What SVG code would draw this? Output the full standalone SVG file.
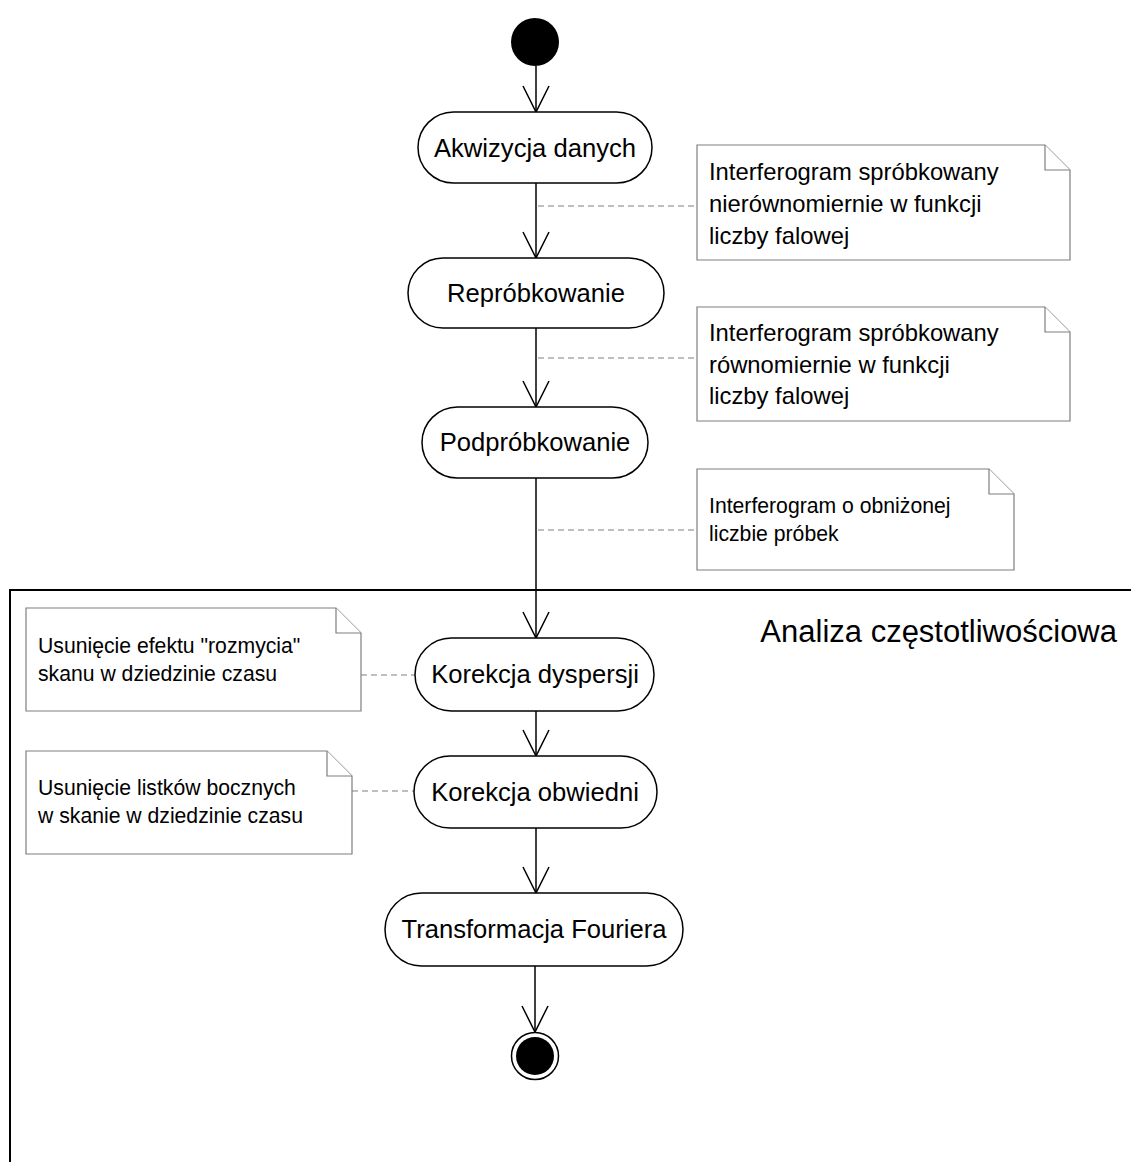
<svg xmlns="http://www.w3.org/2000/svg" width="1131" height="1162" viewBox="0 0 1131 1162">
<defs>
<style>
.node{fill:#fff;stroke:#000;stroke-width:1.5}
.nt{font-family:"Liberation Sans",Arial,sans-serif;font-size:25.6px;fill:#000;text-anchor:middle}
.note{fill:#fff;stroke:#7f7f7f;stroke-width:1.2}
.ntxt{font-family:"Liberation Sans",Arial,sans-serif;font-size:23.8px;fill:#000}
.ntxs{font-family:"Liberation Sans",Arial,sans-serif;font-size:21.2px;fill:#000}
.flow{fill:none;stroke:#000;stroke-width:1.5}
.dash{fill:none;stroke:#808080;stroke-width:1.2;stroke-dasharray:6 4}
.frame{fill:none;stroke:#000;stroke-width:2}
</style>
<marker id="arr" viewBox="0 0 30 30" refX="27" refY="15" markerWidth="30" markerHeight="30" markerUnits="userSpaceOnUse" orient="auto">
<path d="M1 2 L27 15 L1 28" fill="none" stroke="#000" stroke-width="1.5"/>
</marker>
</defs>
<rect width="1131" height="1162" fill="#fff"/>
<g id="frame">
<path class="frame" d="M10 1162 V590 H1131"/>
<text x="1117" y="642" font-family="'Liberation Sans',Arial,sans-serif" font-size="31px" text-anchor="end">Analiza częstotliwościowa</text>
</g>
<g id="connectors">
<line class="flow" x1="536" y1="66" x2="536" y2="112" marker-end="url(#arr)"/>
<line class="flow" x1="536" y1="183" x2="536" y2="258" marker-end="url(#arr)"/>
<line class="flow" x1="536" y1="328" x2="536" y2="407" marker-end="url(#arr)"/>
<line class="flow" x1="536" y1="478" x2="536" y2="638" marker-end="url(#arr)"/>
<line class="flow" x1="536" y1="711" x2="536" y2="756" marker-end="url(#arr)"/>
<line class="flow" x1="536" y1="828" x2="536" y2="893" marker-end="url(#arr)"/>
<line class="flow" x1="535" y1="966" x2="535" y2="1032" marker-end="url(#arr)"/>
<line class="dash" x1="538" y1="206" x2="697" y2="206"/>
<line class="dash" x1="538" y1="358" x2="697" y2="358"/>
<line class="dash" x1="538" y1="530" x2="697" y2="530"/>
<line class="dash" x1="361" y1="675" x2="415" y2="675"/>
<line class="dash" x1="352" y1="791" x2="414" y2="791"/>
</g>
<g id="start">
<circle cx="535" cy="42" r="24" fill="#000"/>
</g>
<g id="akwizycja">
<rect class="node" x="418" y="112" width="234" height="71" rx="35.5"/>
<text class="nt" x="535" y="157">Akwizycja danych</text>
</g>
<g id="note1">
<path class="note" d="M697 145 H1045 L1070 170 V260 H697 Z"/>
<path class="note" d="M1045 145 V170 H1070" fill="none"/>
<text class="ntxt" x="709" y="180">Interferogram spróbkowany</text>
<text class="ntxt" x="709" y="212">nierównomiernie w funkcji</text>
<text class="ntxt" x="709" y="244">liczby falowej</text>
</g>
<g id="reprobkowanie">
<rect class="node" x="408" y="258" width="256" height="70" rx="35"/>
<text class="nt" x="536" y="302">Repróbkowanie</text>
</g>
<g id="note2">
<path class="note" d="M697 307 H1045 L1070 332 V421 H697 Z"/>
<path class="note" d="M1045 307 V332 H1070" fill="none"/>
<text class="ntxt" x="709" y="341">Interferogram spróbkowany</text>
<text class="ntxt" x="709" y="373">równomiernie w funkcji</text>
<text class="ntxt" x="709" y="404">liczby falowej</text>
</g>
<g id="podprobkowanie">
<rect class="node" x="422" y="407" width="226" height="71" rx="35.5"/>
<text class="nt" x="535" y="451">Podpróbkowanie</text>
</g>
<g id="note3">
<path class="note" d="M697 469 H989 L1014 494 V570 H697 Z"/>
<path class="note" d="M989 469 V494 H1014" fill="none"/>
<text class="ntxs" x="709" y="513">Interferogram o obniżonej</text>
<text class="ntxs" x="709" y="541">liczbie próbek</text>
</g>
<g id="note4">
<path class="note" d="M26 608 H336 L361 633 V711 H26 Z"/>
<path class="note" d="M336 608 V633 H361" fill="none"/>
<text class="ntxs" x="38" y="653">Usunięcie efektu "rozmycia"</text>
<text class="ntxs" x="38" y="681">skanu w dziedzinie czasu</text>
</g>
<g id="korekcja_dyspersji">
<rect class="node" x="415" y="638" width="239" height="73" rx="36.5"/>
<text class="nt" x="535" y="683">Korekcja dyspersji</text>
</g>
<g id="note5">
<path class="note" d="M26 751 H327 L352 776 V854 H26 Z"/>
<path class="note" d="M327 751 V776 H352" fill="none"/>
<text class="ntxs" x="38" y="795">Usunięcie listków bocznych</text>
<text class="ntxs" x="38" y="823">w skanie w dziedzinie czasu</text>
</g>
<g id="korekcja_obwiedni">
<rect class="node" x="414" y="756" width="243" height="72" rx="36"/>
<text class="nt" x="535" y="801">Korekcja obwiedni</text>
</g>
<g id="transformacja">
<rect class="node" x="385" y="893" width="298" height="73" rx="36.5"/>
<text class="nt" x="534" y="938">Transformacja Fouriera</text>
</g>
<g id="end">
<circle cx="535" cy="1056" r="23.5" fill="#fff" stroke="#000" stroke-width="1.5"/>
<circle cx="535" cy="1056" r="19" fill="#000"/>
</g>
</svg>
